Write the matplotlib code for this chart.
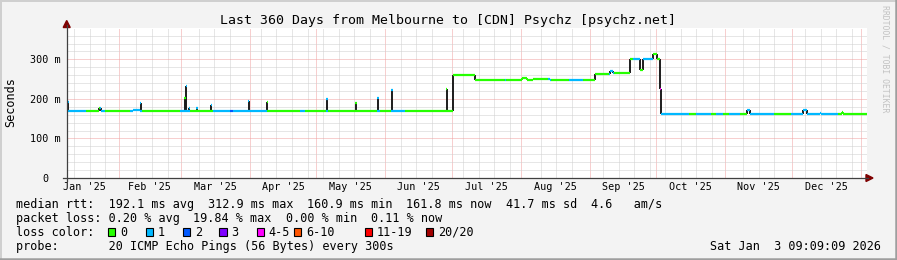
import matplotlib
matplotlib.use('Agg')
import matplotlib.pyplot as plt
from matplotlib.patches import Rectangle, Polygon
from matplotlib.lines import Line2D
import matplotlib.transforms as mtransforms
from datetime import datetime, timedelta

# ---------------- data ----------------
START = datetime(2025, 1, 8, 17, 30)
SPAN_DAYS = 360

# median rtt levels (step starts, days since START) and values in ms
level_day = [0, 14.6, 15.3, 29.7, 32.9, 173.9, 183.7, 204.8, 207.1, 209.8, 217.4,
             237.7, 244.4, 245.8, 253.4, 257.9, 259.3, 263.8, 265.6, 267.0, 267.4,
             306.1, 307.4, 331.3, 333.1, 338.9, 339.5, 348.8, 349.4]
level_ms = [170, 177, 170, 173, 169, 260, 249, 253, 249, 251, 249,
            263, 270, 265, 301, 273, 302, 313, 301, 225, 162,
            172, 162, 172, 162, 165, 162, 166, 162]

# short spikes (day, top ms, loss level of the cap)
spike_day = [0.4, 33.2, 53.1, 53.7, 55.0, 58.5, 65.0, 81.7, 90.2, 117.0, 130.0, 139.9, 146.3, 170.9]
spike_ms = [193, 190, 203, 232, 178, 178, 185, 195, 192, 200, 189, 202, 222, 226]
spike_loss = [1, 1, 0, 1, 1, 1, 1, 1, 0, 1, 0, 1, 1, 0]

# packet-loss colour segments (start day, loss class index)
loss_day = [0, 8.5, 14.9, 17.1, 28.4, 33.8, 50.9, 55.4, 65.7, 73.4, 74.7, 90.0,
            104.9, 107.2, 116.5, 117.5, 139.5, 141.0, 146.0, 152.0, 197.0, 197.6,
            216.5, 218.0, 226.0, 232.0, 244.0, 246.0, 254.8, 258.0, 259.3, 263.5,
            266.9, 267.5, 280.0, 283.0, 290.0, 292.0, 295.0, 298.0, 303.0, 306.0,
            318.0, 326.0, 331.0, 347.0]
loss_lvl = [1, 0, 1, 0, 1, 0, 1, 0, 1, 2, 1, 0,
            1, 0, 1, 0, 1, 0, 1, 0, 1, 0,
            1, 0, 1, 0, 1, 0, 1, 0, 1, 0,
            4, 1, 0, 1, 0, 1, 0, 1, 0, 1,
            0, 1, 1, 0]

loss_labels = ['0', '1', '2', '3', '4-5', '6-10', '11-19', '20/20']
loss_colors = ['#26ff00', '#00b8ff', '#0059ff', '#7e00ff', '#ff00ff', '#ff5500', '#ff0000', '#a10000']

title = 'Last 360 Days from Melbourne to [CDN] Psychz [psychz.net]'
row_median = ['median rtt:  192.1 ms avg', '312.9 ms max', '160.9 ms min', '161.8 ms now',
              '41.7 ms sd', '4.6   am/s']
row_loss = ['packet loss: 0.20 % avg', '19.84 % max', '0.00 % min', '0.11 % now']
probe_text = 'probe:       20 ICMP Echo Pings (56 Bytes) every 300s'
date_text = 'Sat Jan  3 09:09:09 2026'
y_ticks = [0, 100, 200, 300]
y_ticklabels = ['0', '100 m', '200 m', '300 m']

# ---------------- figure ----------------
W, H = 897, 260
MONO = 'DejaVu Sans Mono'
fig = plt.figure(figsize=(W / 100, H / 100), dpi=100)
fig.patch.set_facecolor('#f3f3f3')


def fx(x):
    return x / W


def fy(y):
    return 1 - y / H


L, R, T, B = 67, 867, 27.7, 178
ax = fig.add_axes([fx(L), fy(B), (R - L) / W, (B - T) / H])
ax.set_facecolor('white')
ax.set_xlim(0, SPAN_DAYS)
ax.set_ylim(0, 380)
for s in ax.spines.values():
    s.set_visible(False)


def day_of(dt):
    return (dt - START).total_seconds() / 86400.0


month_starts = []
for yy, mm in [(2025, m) for m in range(2, 13)] + [(2026, 1)]:
    month_starts.append(day_of(datetime(yy, mm, 1)))
weeks = []
d = datetime(2025, 1, 12)
while day_of(d) < SPAN_DAYS:
    wd = day_of(d)
    if min(abs(wd - m) for m in month_starts) > 2.5:
        weeks.append(wd)
    d += timedelta(days=7)

ax.set_xticks(month_starts)
ax.set_xticks(weeks, minor=True)
ax.set_yticks([100, 200, 300])
ax.set_yticks([v for v in range(20, 380, 20) if v % 100], minor=True)
ax.tick_params(which='both', length=0, labelbottom=False, labelleft=False)
ax.grid(which='minor', color='#cfcfcf', ls=(0, (1, 1)), lw=0.72)
ax.grid(which='major', color='#f0a0a0', ls=(0, (1, 1)), lw=0.72)
ax.set_axisbelow(True)

# ---------------- data drawing ----------------
dark = '#1c1c1c'
band_lw = 1.6
n = len(level_day)
ends = level_day[1:] + [SPAN_DAYS]
lends = loss_day[1:] + [SPAN_DAYS]


def loss_at(dd):
    c = 0
    for a, lv in zip(loss_day, loss_lvl):
        if dd >= a:
            c = lv
    return c


def level_at(dd):
    v = level_ms[0]
    for a, lv in zip(level_day, level_ms):
        if dd >= a:
            v = lv
    return v


# connectors
for i in range(1, n):
    v0, v1 = level_ms[i - 1], level_ms[i]
    col = dark if abs(v1 - v0) > 4 else loss_colors[loss_at(level_day[i])]
    ax.vlines(level_day[i], min(v0, v1), max(v0, v1), color=col, lw=1.4, zorder=3)

# spikes (smoke + median)
for sd, sm, sl in zip(spike_day, spike_ms, spike_loss):
    base = level_at(sd)
    ax.vlines(sd, base, sm, color=dark, lw=1.4, zorder=3)
    ax.hlines(sm, sd - 0.3, sd + 0.3, color=loss_colors[sl], lw=band_lw, zorder=4)

# coloured median band
for d0, d1, v in zip(level_day, ends, level_ms):
    for a, b, lv in zip(loss_day, lends, loss_lvl):
        lo, hi = max(d0, a), min(d1, b)
        if hi > lo:
            ax.hlines(v, lo, hi, color=loss_colors[lv], lw=band_lw, zorder=4)

# ---------------- axes lines and arrows ----------------
axis_col = '#404040'
arrow_col = '#7f0000'
fig.add_artist(Line2D([fx(66.7), fx(66.7)], [fy(181), fy(25)], color=axis_col, lw=0.9))
fig.add_artist(Line2D([fx(63), fx(868)], [fy(178), fy(178)], color=axis_col, lw=0.9))
fig.add_artist(Polygon([[fx(66.7), fy(20.5)], [fx(63.2), fy(27.5)], [fx(70.2), fy(27.5)]],
                       closed=True, color=arrow_col, transform=fig.transFigure))
fig.add_artist(Polygon([[fx(873), fy(178)], [fx(866), fy(174.5)], [fx(866), fy(181.5)]],
                       closed=True, color=arrow_col, transform=fig.transFigure))

# ---------------- tick labels ----------------
bt = mtransforms.blended_transform_factory(ax.transData, fig.transFigure)
for yy, mm in [(2025, m) for m in range(1, 13)]:
    a = datetime(yy, mm, 1)
    b = datetime(yy + (mm == 12), mm % 12 + 1, 1)
    mid = day_of(a) + (day_of(b) - day_of(a)) / 2
    if 0 <= mid <= SPAN_DAYS:
        ax.text(mid, fy(190), a.strftime("%b '%y"), transform=bt, ha='center', va='baseline',
                family=MONO, fontsize=7.25, color='black')

yt = mtransforms.blended_transform_factory(fig.transFigure, ax.transData)
for v, lab in zip(y_ticks, y_ticklabels):
    if v == 0:
        ax.text(fx(45), v, lab, transform=yt, ha='center', va='center_baseline',
                family=MONO, fontsize=7.25)
    else:
        ax.text(fx(60.5), v, lab, transform=yt, ha='right', va='center_baseline',
                family=MONO, fontsize=7.25)

# ---------------- texts ----------------
fig.text(fx(447.5), fy(24), title, ha='center', va='baseline', family=MONO, fontsize=9.5)
fig.text(fx(11), fy(102.5), 'Seconds', rotation=90, ha='center', va='center', family=MONO, fontsize=8.5)
fig.text(fx(885), fy(59), 'RRDTOOL / TOBI OETIKER', rotation=270, ha='center', va='center',
         family=MONO, fontsize=5.9, color='#c2c2c2')

CW = 8.5 * 100 / 72 * 0.6021
GAP = 14


def row(items, x0, yb):
    x = x0
    for s in items:
        fig.text(fx(x), fy(yb), s, ha='left', va='baseline', family=MONO, fontsize=8.5)
        x += len(s) * CW + GAP


row(row_median, 16, 207.7)
row(row_loss, 16, 221.7)
fig.text(fx(16), fy(235.7), 'loss color:', ha='left', va='baseline', family=MONO, fontsize=8.5)
box_x = [108, 145.7, 182.7, 219.3, 256.7, 294, 365, 426]
for bx, lab, col in zip(box_x, loss_labels, loss_colors):
    fig.add_artist(Rectangle((fx(bx), fy(235.5)), 7.2 / W, 7.2 / H, transform=fig.transFigure,
                             facecolor=col, edgecolor='black', lw=0.8))
    fig.text(fx(bx + 12), fy(235.7), lab, ha='left', va='baseline', family=MONO, fontsize=8.5)
fig.text(fx(16), fy(249.7), probe_text, ha='left', va='baseline', family=MONO, fontsize=8.5)
fig.text(fx(881), fy(249.7), date_text, ha='right', va='baseline', family=MONO, fontsize=8.5)

# frame (3D shade)
fig.add_artist(Line2D([0, 1], [fy(0.75), fy(0.75)], color='#cfcfcf', lw=1.4))
fig.add_artist(Line2D([fx(0.75), fx(0.75)], [0, 1], color='#cfcfcf', lw=1.4))
fig.add_artist(Line2D([0, 1], [fy(258.8), fy(258.8)], color='#9e9e9e', lw=1.8))
fig.add_artist(Line2D([fx(895.5), fx(895.5)], [0, 1], color='#9e9e9e', lw=1.8))

fig.savefig('out.png', dpi=100, facecolor=fig.get_facecolor())
